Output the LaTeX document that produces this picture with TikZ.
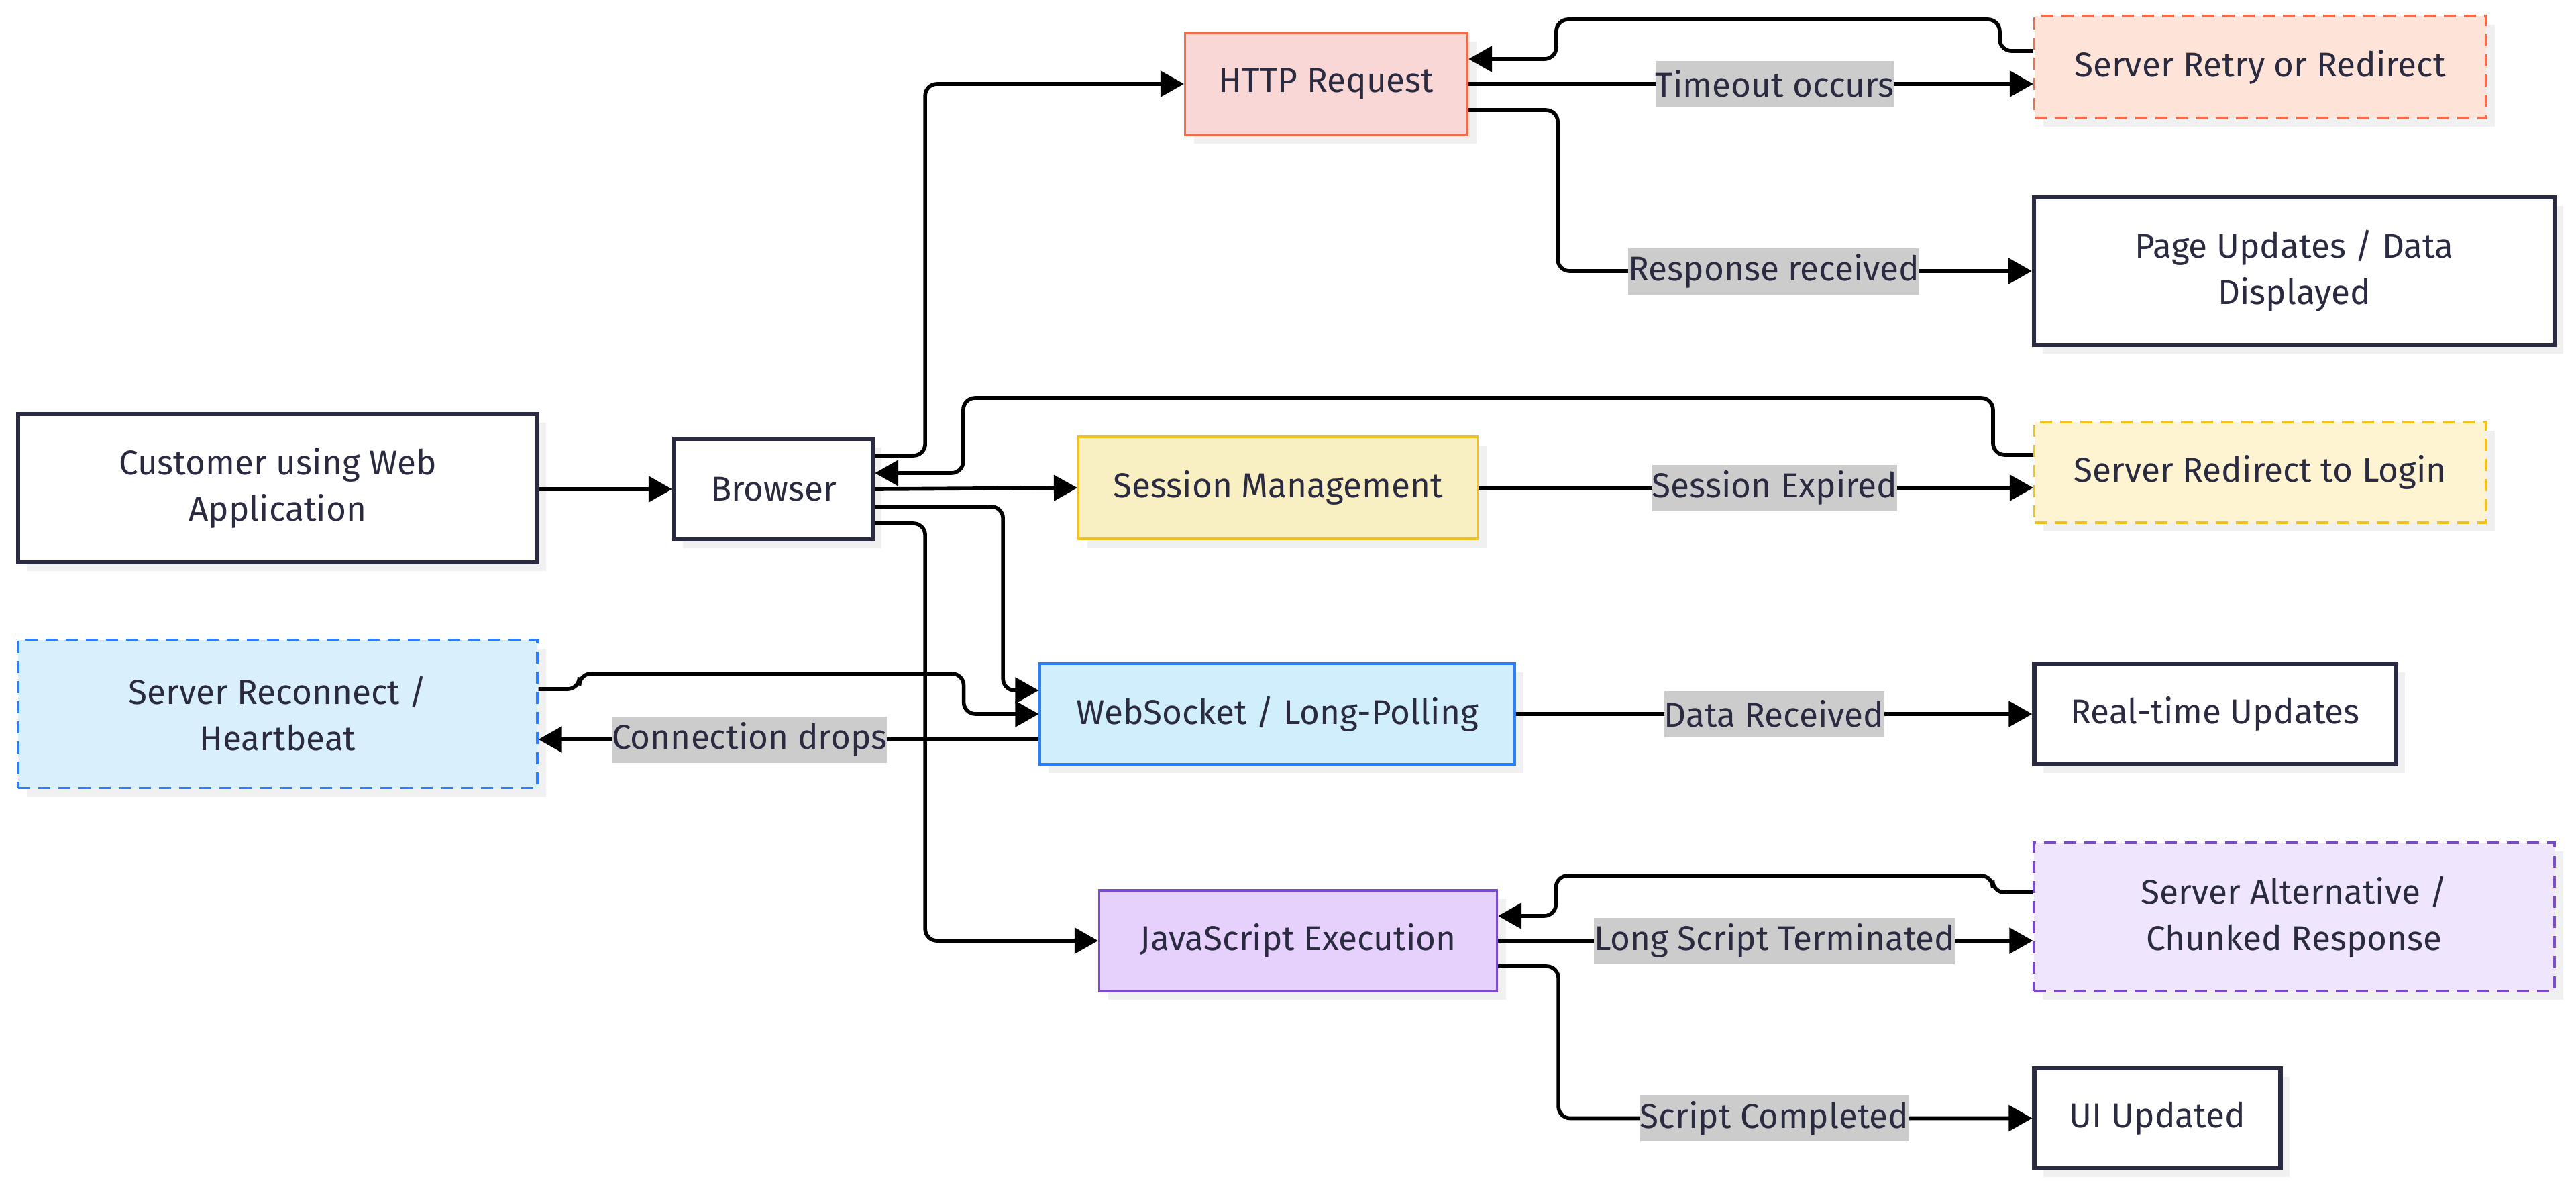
\documentclass[tikz,border=0pt]{standalone}
\usepackage{fontspec}
\setmainfont{Fira Sans}
\usetikzlibrary{arrows.meta,shadows}
\definecolor{ink}{HTML}{2A2A40}
\definecolor{lblgray}{HTML}{CCCCCC}
\definecolor{redline}{HTML}{F26B4A}
\definecolor{redfill}{HTML}{F8D7D6}
\definecolor{peachfill}{HTML}{FEE4D8}
\definecolor{yelline}{HTML}{F2C21B}
\definecolor{yelfill}{HTML}{F8EFC2}
\definecolor{lightyel}{HTML}{FEF4D2}
\definecolor{blueline}{HTML}{2B7FFF}
\definecolor{bluefill}{HTML}{D0EEFB}
\definecolor{lightblue}{HTML}{DAEFFC}
\definecolor{purpline}{HTML}{7A4CC8}
\definecolor{purpfill}{HTML}{E5D1FB}
\definecolor{lightpurp}{HTML}{EFE6FD}
\tikzset{
	shade box/.style={drop shadow={shadow xshift=1.3mm, shadow yshift=-1.3mm, fill=black!6, opacity=1}},
	plainbox/.style={shade box, draw=ink, line width=1.8pt, fill=white, text=ink, align=center, inner sep=0pt},
	colbox/.style={shade box, line width=0.9pt, text=ink, align=center, inner sep=0pt},
	dashbox/.style={colbox, dash pattern=on 1.8mm off 1.2mm},
	link/.style={draw=black, line width=1.6pt, rounded corners=5pt, -{Triangle[length=3.5mm, width=3.8mm]}},
	lbl/.style={sharp corners, fill=lblgray, text=ink, inner xsep=0pt, inner ysep=0pt, minimum height=6.9mm}
}

\begin{document}
\begin{tikzpicture}[font=\fontsize{14.6}{19.6}\selectfont]
			%%%%% START %%%%%
			
			\fill[white] (0, 0) rectangle (38.4, -17.74);
			\useasboundingbox (0, 0) rectangle (38.4, -17.74);
			
			% left column
			\node[plainbox, minimum width=7.74cm, minimum height=2.21cm] (cust) at (4.14, -7.275) {Customer using Web\\Application};
			\node[plainbox, minimum width=2.96cm, minimum height=1.5cm] (browser) at (11.53, -7.29) {Browser};
			\node[dashbox, draw=blueline, fill=lightblue, minimum width=7.74cm, minimum height=2.21cm] (reconnect) at (4.14, -10.64) {Server Reconnect /\\Heartbeat};
			
			% middle column
			\node[colbox, draw=redline, fill=redfill, minimum width=4.21cm, minimum height=1.52cm] (http) at (19.77, -1.25) {HTTP Request};
			\node[colbox, draw=yelline, fill=yelfill, minimum width=5.95cm, minimum height=1.52cm] (session) at (19.05, -7.27) {Session Management};
			\node[colbox, draw=blueline, fill=bluefill, minimum width=7.08cm, minimum height=1.5cm] (ws) at (19.04, -10.64) {WebSocket / Long-Polling};
			\node[colbox, draw=purpline, fill=purpfill, minimum width=5.93cm, minimum height=1.5cm] (js) at (19.35, -14.02) {JavaScript Execution};
			
			% right column
			\node[dashbox, draw=redline, fill=peachfill, minimum width=6.73cm, minimum height=1.52cm] (retry) at (33.69, -1.0) {Server Retry or Redirect};
			\node[plainbox, minimum width=7.76cm, minimum height=2.2cm] (page) at (34.2, -4.04) {Page Updates / Data\\Displayed};
			\node[dashbox, draw=yelline, fill=lightyel, minimum width=6.73cm, minimum height=1.5cm] (login) at (33.69, -7.04) {Server Redirect to Login};
			\node[plainbox, minimum width=5.39cm, minimum height=1.5cm] (rt) at (33.02, -10.64) {Real-time Updates};
			\node[dashbox, draw=purpline, fill=lightpurp, minimum width=7.76cm, minimum height=2.21cm] (alt) at (34.2, -13.665) {Server Alternative /\\Chunked Response};
			\node[plainbox, minimum width=3.67cm, minimum height=1.49cm] (ui) at (32.16, -16.665) {UI Updated};
			
			% browser fan-out
			\draw[link] (cust.east |- browser.west) -- (browser.west);
			\draw[link] ([yshift=5mm]browser.east) -- ++(0.75, 0) |- (http.west);
			\draw[link] (browser.east) -- (session.west);
			\draw[link] ([yshift=-2.6mm]browser.east) -- ++(1.91, 0) |- ([yshift=3.5mm]ws.west);
			\draw[link] ([yshift=-5.1mm]browser.east) -- ++(0.75, 0) |- (js.west);
			
			% http
			\draw[link] (http.east |- retry.west) ++(0, -0.25) -- node[lbl, pos=0.542] {Timeout occurs} ([yshift=-2.5mm]retry.west);
			\draw[link] ([yshift=2.4mm]retry.west) -- ++(-0.5, 0) -- ++(0, 0.47) -- ++(-6.61, 0) |- ([yshift=3.7mm]http.east);
			\draw[link] ([yshift=-3.9mm]http.east) -- ++(1.33, 0) |- node[lbl, pos=0.728] {Response received} (page.west);
			
			% session
			\draw[link] (session.east) -- node[lbl, pos=0.534] {Session Expired} (login.west |- session.east);
			\draw[link] ([yshift=2.6mm]login.west) -- ++(-0.6, 0) -- ++(0, 0.85) -- ++(-15.35, 0) |- ([yshift=2.4mm]browser.east);
			
			% websocket
			\draw[link] (ws.east) -- node[lbl, pos=0.5] {Data Received} (rt.west);
			\draw[link] ([yshift=-3.8mm]ws.west) -- node[lbl, pos=0.578] {Connection drops} ([yshift=-3.8mm]reconnect.east);
			\draw[link] ([yshift=3.7mm]reconnect.east) -- ++(0.61, 0) -- ++(0, 0.23) -- ++(5.73, 0) |- (ws.west);
			
			% javascript
			\draw[link] (js.east) -- node[lbl, pos=0.517] {Long Script Terminated} (alt.west |- js.east);
			\draw[link] ([yshift=3.65mm]alt.west) -- ++(-0.6, 0) -- ++(0, 0.25) -- ++(-6.51, 0) |- ([yshift=3.7mm]js.east);
			\draw[link] ([yshift=-3.8mm]js.east) -- ++(0.9, 0) |- node[lbl, pos=0.728] {Script Completed} (ui.west);
			
			%%%%% END %%%%%
\end{tikzpicture}
\end{document}
